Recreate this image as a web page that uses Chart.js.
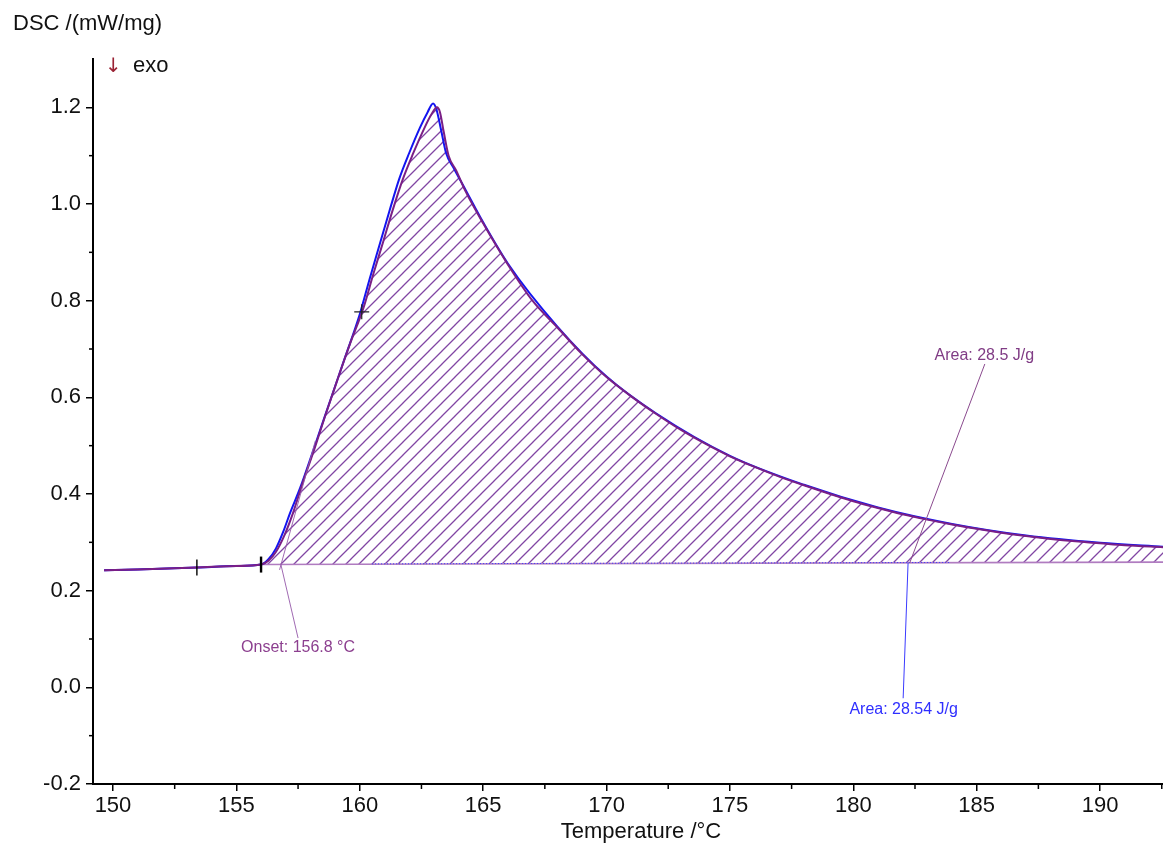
<!DOCTYPE html>
<html><head><meta charset="utf-8">
<script src="https://cdn.jsdelivr.net/npm/chart.js@4.4.1/dist/chart.umd.min.js"></script>
<style>html,body{margin:0;padding:0;background:#fff;} #wrap{width:1163px;height:846px;position:relative;}</style>
</head><body><div id="wrap"><canvas id="c" width="1163" height="846"></canvas></div>
<script>
// ---- data ----
const tempPurple = [149.64,151.0,153.4,155.0,156.0,156.3,156.6,156.95,157.29,157.7,158.18,158.6,159.08,159.6,160.15,160.55,160.95,161.35,161.75,162.15,162.6,162.9,163.13,163.25,163.4,163.6,163.9,164.3,165.0,166.0,167.0,168.0,169.0,170.0,171.0,172.0,173.0,174.0,175.0,176.0,177.0,178.0,179.0,180.0,181.0,182.0,183.0,184.0,185.0,186.0,187.0,188.0,189.0,190.0,191.0,192.55];
const dscPurple = [0.242,0.244,0.248,0.251,0.254,0.262,0.28,0.315,0.36,0.425,0.496,0.562,0.634,0.71,0.785,0.855,0.922,0.99,1.052,1.103,1.155,1.185,1.2,1.19,1.15,1.10,1.07,1.025,0.96,0.875,0.80,0.745,0.69,0.642,0.602,0.566,0.533,0.504,0.478,0.456,0.436,0.418,0.401,0.385,0.371,0.358,0.347,0.337,0.328,0.32,0.313,0.307,0.302,0.298,0.294,0.290];
const tempBlue = [149.64,151.0,153.4,155.0,156.0,156.3,156.6,156.9,157.17,157.58,158.2,158.8,159.4,160.0,160.4,160.8,161.2,161.6,162.0,162.44,162.75,162.97,163.1,163.3,163.5,163.8,164.3,165.0,166.0,168.0,170.0,172.0,175.0,178.0,181.0,184.0,187.0,190.0,192.55];
const dscBlue = [0.242,0.244,0.248,0.251,0.254,0.265,0.287,0.322,0.36,0.412,0.503,0.593,0.682,0.772,0.845,0.915,0.985,1.052,1.105,1.158,1.19,1.208,1.197,1.152,1.105,1.075,1.028,0.962,0.877,0.747,0.643,0.567,0.479,0.419,0.372,0.338,0.314,0.299,0.291];
const tempBaseline = [149.64,153.4,156.0,192.55];
const dscBaseline = [0.242,0.248,0.254,0.259];
const tempBaselineBlue = [160.5,183.9];
const dscBaselineBlue = [0.2555,0.2584];
const tempTicks = [153.4,156.0];
const dscTicks = [0.248,0.254];
const tempCross = [160.08];
const dscCross = [0.777];
const xMinor = [152.5,157.5,162.5,167.5,172.5,177.5,182.5,187.5,192.5];
const yMinor = [-0.1,0.1,0.3,0.5,0.7,0.9,1.1];
const onset = {label:'Onset: 156.8 °C', t:156.8, v:0.255};
const areaPurple = {label:'Area: 28.5 J/g'};
const areaBlue = {label:'Area: 28.54 J/g'};

const pts = (xs, ys) => xs.map((x,i)=>({x, y: ys[i]}));
const FONT = "'Liberation Sans', Arial, sans-serif";

function makeHatch(){
  const s=13; const p=document.createElement('canvas'); p.width=s; p.height=s;
  const g=p.getContext('2d'); g.strokeStyle='rgba(112,44,150,0.88)'; g.lineWidth=1.3;
  g.beginPath();
  g.moveTo(-2,s+2); g.lineTo(s+2,-2);
  g.moveTo(-2,2); g.lineTo(2,-2);
  g.moveTo(s-2,s+2); g.lineTo(s+2,s-2);
  g.stroke();
  return g.createPattern(p,'repeat');
}

const annot = {
  id:'annot',
  afterDraw(chart){
    const {ctx, scales:{x,y}} = chart;
    const X=v=>x.getPixelForValue(v), Y=v=>y.getPixelForValue(v);
    ctx.save();
    // minor ticks
    ctx.strokeStyle='#000'; ctx.lineWidth=1.5;
    yMinor.forEach(v=>{ctx.beginPath(); ctx.moveTo(x.left-4, Y(v)); ctx.lineTo(x.left, Y(v)); ctx.stroke();});
    xMinor.forEach(v=>{ctx.beginPath(); ctx.moveTo(X(v), y.bottom); ctx.lineTo(X(v), y.bottom+5); ctx.stroke();});
    // onset tangent + leader
    ctx.strokeStyle='rgba(150,90,170,0.9)'; ctx.lineWidth=1;
    ctx.beginPath(); ctx.moveTo(X(156.75), Y(0.243)); ctx.lineTo(X(158.2), Y(0.51)); ctx.stroke();
    ctx.beginPath(); ctx.moveTo(X(157.5), Y(0.102)); ctx.lineTo(X(onset.t), Y(onset.v)); ctx.stroke();
    // area leaders
    ctx.strokeStyle='#8a4a8e'; ctx.lineWidth=1;
    ctx.beginPath(); ctx.moveTo(X(185.33), Y(0.669)); ctx.lineTo(X(182.29), Y(0.258)); ctx.stroke();
    ctx.strokeStyle='#3a3aff';
    ctx.beginPath(); ctx.moveTo(X(182.02), Y(-0.0226)); ctx.lineTo(X(182.22), Y(0.258)); ctx.stroke();
    // annotation texts
    ctx.font = '16px '+FONT; ctx.textAlign='center'; ctx.textBaseline='middle';
    ctx.fillStyle='#8c3f8f'; ctx.fillText(onset.label, X(157.5), Y(0.0823));
    ctx.fillStyle='#803c85'; ctx.fillText(areaPurple.label, X(185.31), Y(0.687));
    ctx.fillStyle='#2f2fff'; ctx.fillText(areaBlue.label, X(182.04), Y(-0.0456));
    // titles
    ctx.textAlign='left'; ctx.textBaseline='alphabetic';
    ctx.font='22px '+FONT; ctx.fillStyle='#111';
    ctx.fillText('DSC /(mW/mg)', 13, 30);
    ctx.fillText('exo', 133, 72);
    ctx.fillStyle='#9b2335'; ctx.font="20px 'DejaVu Sans', sans-serif";
    ctx.fillText('↓', 105, 72);
    ctx.textAlign='center'; ctx.font='22px '+FONT; ctx.fillStyle='#111';
    ctx.fillText('Temperature /°C', 641, 838);
    ctx.restore();
  }
};

new Chart(document.getElementById('c'), {
  type:'line',
  data:{datasets:[
    {data:pts(tempPurple,dscPurple), borderColor:'#7a1f86', borderWidth:2, pointRadius:0,
     cubicInterpolationMode:'monotone', fill:{target:1}, backgroundColor:makeHatch(), order:1},
    {data:pts(tempBaseline,dscBaseline), borderColor:'#b07cc0', borderWidth:1.6, pointRadius:0, tension:0, fill:false, order:4},
    {data:pts(tempBaselineBlue,dscBaselineBlue), borderColor:'#3a3aff', borderWidth:1, borderDash:[1,2], pointRadius:0, fill:false, order:3},
    {data:pts(tempBlue,dscBlue), borderColor:'#1414f0', borderWidth:2, pointRadius:0, cubicInterpolationMode:'monotone', fill:false, order:2},
    {data:pts(tempTicks,dscTicks), showLine:false, pointStyle:'line', rotation:90, pointRadius:8,
     pointBorderColor:'#000', pointBorderWidth:[1.4,2.4], order:0},
    {data:pts(tempCross,dscCross), showLine:false, pointStyle:'cross', pointRadius:7.5,
     pointBorderColor:'#222', pointBorderWidth:1.2, order:0}
  ]},
  options:{
    responsive:false, animation:false, devicePixelRatio:1,
    layout:{autoPadding:false, padding:{top:59,left:0,right:0,bottom:0}},
    plugins:{legend:{display:false}, tooltip:{enabled:false}, filler:{drawTime:'beforeDatasetsDraw'}},
    scales:{
      x:{type:'linear', min:149.19, max:192.55,
        ticks:{stepSize:5, includeBounds:false, autoSkip:false, maxRotation:0, padding:2,
          font:{family:FONT,size:22}, color:'#111', callback:v=>String(v)},
        grid:{drawOnChartArea:false, drawTicks:true, tickLength:7, color:'#000', lineWidth:1.5},
        border:{display:true, color:'#000', width:2},
        afterFit(s){ s.height = 62; s.paddingLeft = 0; s.paddingRight = 0; }
      },
      y:{type:'linear', min:-0.2, max:1.3,
        ticks:{stepSize:0.2, includeBounds:false, padding:5,
          font:{family:FONT,size:22}, color:'#111',
          callback:v=>{ const r=Math.round(v*10)/10; return (Math.abs(r)<1e-9?0:r).toFixed(1);} },
        grid:{drawOnChartArea:false, drawTicks:true, tickLength:7, color:'#000', lineWidth:1.5},
        border:{display:true, color:'#000', width:2},
        afterFit(s){ s.width = 93; s.paddingTop = 0; s.paddingBottom = 0; }
      }
    }
  },
  plugins:[annot]
});
</script>
</body></html>
